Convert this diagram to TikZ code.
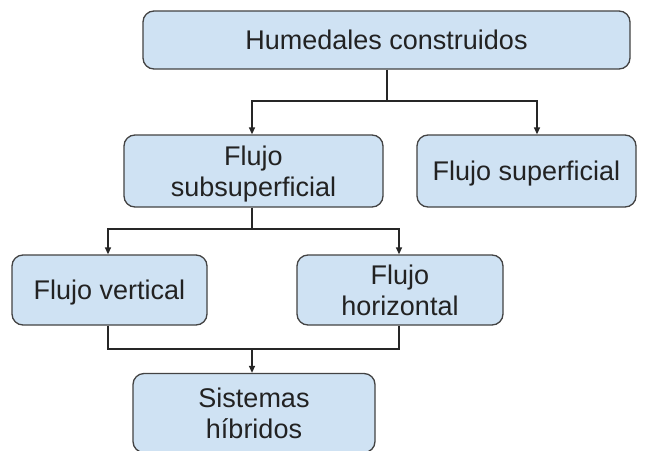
\documentclass[tikz,border=0pt]{standalone}
\usepackage{fontspec}
\setmainfont{Liberation Sans}
\usetikzlibrary{arrows.meta,calc}
\definecolor{boxfill}{HTML}{CFE2F3}
\definecolor{boxline}{HTML}{434343}
\definecolor{txt}{HTML}{222222}
\begin{document}
\begin{tikzpicture}[x=1pt,y=-1pt,
  box/.style={draw=boxline,fill=boxfill,line width=1.3pt,rounded corners=11pt,
    inner sep=0pt,align=center,text=txt,text depth=0pt,font=\fontsize{27}{31}\selectfont},
  conn/.style={draw=black!85,line width=1.3pt},
  arr/.style={conn,-{Triangle[length=7pt,width=6pt]}}]
\clip (0,0) rectangle (647,450);
\useasboundingbox (0,0) rectangle (647,450);
\fill[white] (0,0) rectangle (647,450);
% nodes
\node[box,minimum width=487pt,minimum height=58pt] (top) at (386.5,40) {Humedales construidos};
\node[box,minimum width=259pt,minimum height=72pt] (sub) at (253.5,171) {Flujo\\subsuperficial};
\node[box,minimum width=219pt,minimum height=72pt] (sup) at (526.5,171) {Flujo superficial};
\node[box,minimum width=195pt,minimum height=70pt] (ver) at (109.5,290) {Flujo vertical};
\node[box,minimum width=206pt,minimum height=70pt] (hor) at (400,290) {Flujo\\horizontal};
\node[box,minimum width=242pt,minimum height=79pt] (sis) at (254,413) {Sistemas\\híbridos};
% connector points
\coordinate (j1) at (387,101);
\coordinate (j2) at (252,229);
\coordinate (j3) at (252,349);
% top -> sub, sup
\draw[conn] ($(top.south)+(0.5,0)$) -- (j1);
\draw[arr] (j1) -| ($(sub.north)+(-1.5,0)$);
\draw[arr] (j1) -| ($(sup.north)+(10.5,0)$);
% sub -> ver, hor
\draw[conn] ($(sub.south)+(-1.5,0)$) -- (j2);
\draw[arr] (j2) -| ($(ver.north)+(-1.5,0)$);
\draw[arr] (j2) -| ($(hor.north)+(-1,0)$);
% ver, hor -> sis
\draw[conn] ($(ver.south)+(-1.5,0)$) |- (j3);
\draw[conn] ($(hor.south)+(-1,0)$) |- (j3);
\draw[arr] (j3) -- ($(sis.north)+(-2,0)$);
\end{tikzpicture}
\end{document}
